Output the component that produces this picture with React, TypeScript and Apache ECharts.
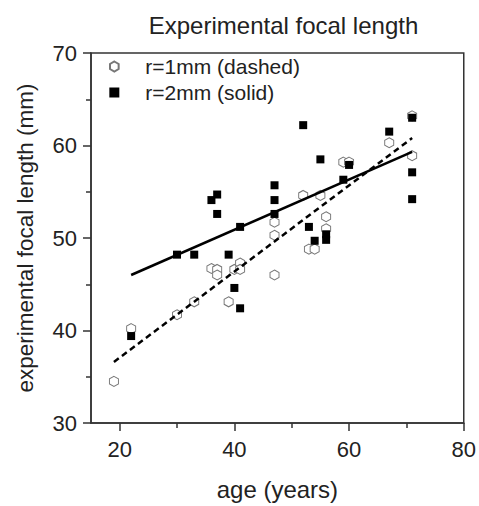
import React, { useEffect, useRef } from "react";
import * as echarts from "echarts";

const TITLE = "Experimental focal length";
const X_NAME = "age (years)";
const Y_NAME = "experimental focal length (mm)";
const NAME_R1 = "r=1mm (dashed)";
const NAME_R2 = "r=2mm (solid)";

// r = 1 mm (open hexagons)
const ageR1 = [19, 22, 30, 33, 36, 37, 37, 39, 40, 41, 41, 47, 47, 47, 52, 53, 54, 55, 56, 56, 59, 60, 67, 71, 71];
const focalR1 = [34.5, 40.2, 41.7, 43.1, 46.7, 46.6, 46.0, 43.1, 46.6, 47.3, 46.6, 51.7, 50.3, 46.0, 54.6, 48.8, 48.8, 54.6, 52.3, 51.0, 58.2, 58.2, 60.3, 63.2, 58.9];

// r = 2 mm (filled squares)
const ageR2 = [22, 30, 33, 36, 37, 37, 39, 40, 41, 41, 47, 47, 47, 52, 53, 54, 55, 56, 56, 59, 60, 67, 71, 71, 71];
const focalR2 = [39.4, 48.2, 48.2, 54.1, 54.7, 52.6, 48.2, 44.6, 51.2, 42.4, 55.7, 54.1, 52.6, 62.2, 51.2, 49.7, 58.5, 50.4, 49.8, 56.3, 57.9, 61.5, 63.0, 57.1, 54.2];

// fitted lines (end points)
const fitR1Age = [19, 71];
const fitR1Focal = [36.6, 60.8];
const fitR2Age = [22, 71];
const fitR2Focal = [46.0, 59.3];

// axis ticks
const xMajorTicks = [20, 40, 60, 80];
const xMinorTicks = [30, 50, 70];
const xMin = 15;
const xMax = 80;
const yMin = 30;
const yMax = 70;
const yInterval = 10;

const FONT = "'Liberation Sans', Arial, Helvetica, sans-serif";
const HEX = "path://M0,-10L8.66,-5L8.66,5L0,10L-8.66,5L-8.66,-5Z";

function pairs(xs: number[], ys: number[]) {
  return xs.map((x, i) => [x, ys[i]]);
}

export default function App() {
  const ref = useRef<HTMLDivElement>(null);
  useEffect(() => {
    if (!ref.current) return;
    const chart = echarts.init(ref.current, null, { renderer: "svg" });
    const axisColor = "#333";
    chart.setOption({
      animation: false,
      backgroundColor: "#fff",
      textStyle: { fontFamily: FONT },
      title: {
        text: TITLE,
        left: 278.5,
        textAlign: "center",
        top: 8,
        textStyle: { fontFamily: FONT, fontSize: 24, fontWeight: "normal", color: "#222" },
      },
      legend: {
        data: [NAME_R1, NAME_R2],
        orient: "vertical",
        left: 109,
        top: 56,
        padding: 0,
        itemWidth: 10,
        itemHeight: 10,
        itemGap: 5,
        textStyle: { fontFamily: FONT, fontSize: 21, color: "#222", padding: [0, 0, 0, 21], lineHeight: 21 },
      },
      grid: {
        left: 91,
        right: 13,
        top: 53,
        bottom: 79,
        show: true,
        borderColor: axisColor,
        borderWidth: 1.5,
        backgroundColor: "transparent",
      },
      xAxis: [
        {
          type: "value",
          min: xMin,
          max: xMax,
          name: X_NAME,
          nameLocation: "middle",
          nameGap: 54,
          nameTextStyle: { fontFamily: FONT, fontSize: 24, color: "#222" },
          axisLine: { show: true, lineStyle: { color: axisColor, width: 1.5 } },
          axisTick: { show: true, customValues: xMajorTicks, length: 8, lineStyle: { color: axisColor, width: 1.5 } },
          axisLabel: { customValues: xMajorTicks, fontFamily: FONT, fontSize: 22, color: "#222", margin: 15 },
          splitLine: { show: false },
        },
        {
          type: "value",
          min: xMin,
          max: xMax,
          position: "bottom",
          axisLine: { show: false },
          axisTick: { show: true, customValues: xMinorTicks, length: 5, lineStyle: { color: axisColor, width: 1.5 } },
          axisLabel: { show: false },
          splitLine: { show: false },
        },
      ],
      yAxis: {
        type: "value",
        min: yMin,
        max: yMax,
        interval: yInterval,
        name: Y_NAME,
        nameLocation: "middle",
        nameGap: 54,
        nameTextStyle: { fontFamily: FONT, fontSize: 22.5, color: "#222" },
        axisLine: { show: true, lineStyle: { color: axisColor, width: 1.5 } },
        axisTick: { show: true, length: 8, lineStyle: { color: axisColor, width: 1.5 } },
        minorTick: { show: true, splitNumber: 2, length: 5, lineStyle: { color: axisColor, width: 1.5 } },
        axisLabel: { fontFamily: FONT, fontSize: 22, color: "#222", margin: 14 },
        splitLine: { show: false },
        minorSplitLine: { show: false },
      },
      series: [
        {
          name: NAME_R1,
          type: "scatter",
          data: pairs(ageR1, focalR1),
          symbol: HEX,
          symbolSize: [9, 10],
          itemStyle: { color: "#fff", borderColor: "#777", borderWidth: 1, opacity: 1 },
          z: 2,
        },
        {
          name: NAME_R2,
          type: "scatter",
          data: pairs(ageR2, focalR2),
          symbol: "rect",
          symbolSize: 8,
          itemStyle: { color: "#000", opacity: 1 },
          z: 3,
        },
        {
          name: "fit r=1mm",
          type: "line",
          data: pairs(fitR1Age, fitR1Focal),
          showSymbol: false,
          lineStyle: { color: "#000", width: 2.5, type: [6, 4] },
          z: 4,
        },
        {
          name: "fit r=2mm",
          type: "line",
          data: pairs(fitR2Age, fitR2Focal),
          showSymbol: false,
          lineStyle: { color: "#000", width: 2.5, type: "solid" },
          z: 4,
        },
      ],
    });
    return () => chart.dispose();
  }, []);
  return <div ref={ref} style={{ position: "absolute", left: 0, top: 0, width: 479, height: 506 }} />;
}
